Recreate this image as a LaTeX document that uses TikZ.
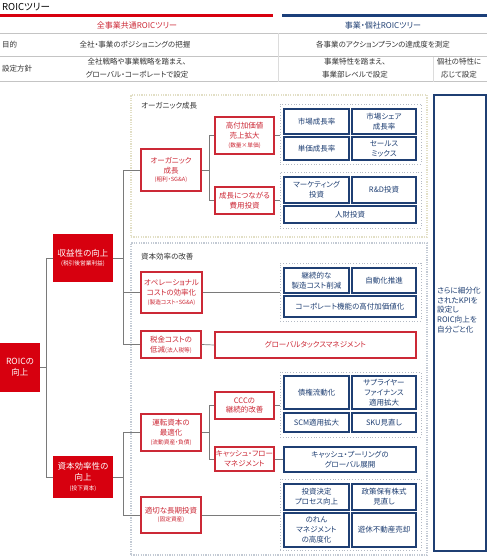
\documentclass[tikz,border=0pt]{standalone}
\usepackage{fontspec}
\setmainfont{Noto Sans CJK JP}[RawFeature=+palt]
\definecolor{redfill}{HTML}{D7000F}
\definecolor{redline}{HTML}{CC2936}
\definecolor{navy}{HTML}{1F3F73}
\definecolor{hblue}{HTML}{1B3F7A}
\definecolor{conngray}{HTML}{7A7A7A}
\definecolor{rulegray}{HTML}{C4C4C4}
\definecolor{grpgray}{HTML}{B4BAC4}
\definecolor{orgbeige}{HTML}{E2DFC6}
\definecolor{capgray}{HTML}{C3CAD4}
\definecolor{txtgray}{HTML}{333333}
\newcommand\bx[7]{\node[#1,minimum width={(#5)-(#3)},minimum height={(#6)-(#4)}] (#2) at ({((#3)+(#5))/2},{((#4)+(#6))/2}) {#7};}
\newcommand\fs{\fontsize{7.5}{9.8}\selectfont}
\newcommand\fb{\fontsize{8.5}{10.8}\selectfont}
\newcommand\sm{\fontsize{5.7}{7}\selectfont}
\begin{document}
\begin{tikzpicture}[x=1pt,y=-1pt,
  redfillbox/.style={fill=redfill,draw=none,text=white,align=center,inner sep=0pt,font=\fb},
  redbox/.style={draw=redline,line width=1.1pt,fill=white,text=redline,align=center,inner sep=0pt,font=\fs},
  bluebox/.style={draw=navy,line width=1.1pt,fill=white,text=navy,align=center,inner sep=0pt,font=\fs},
  grp/.style={draw=grpgray,dotted,line width=0.8pt,inner sep=0pt},
  bigorg/.style={draw=orgbeige,dash pattern=on 1.2pt off 1.2pt,line width=2.4pt,inner sep=0pt},
  bigcap/.style={draw=capgray,dash pattern=on 1.2pt off 1.2pt,line width=2.4pt,inner sep=0pt},
  conn/.style={draw=conngray,line width=0.7pt},
  rule/.style={draw=rulegray,line width=0.9pt},
  hdr/.style={font=\fontsize{8}{10}\selectfont,inner sep=0pt},
  row/.style={font=\fontsize{7.5}{13}\selectfont,text=txtgray,align=center,inner sep=0pt}
]
\useasboundingbox (0,0) rectangle (487,557);
% header
\node[anchor=west,inner sep=0pt,font=\fontsize{9.5}{11}\selectfont] (title) at (2,7.5) {ROICツリー};
\draw[redfill,line width=3pt] (0,15) -- (273,15);
\draw[hblue,line width=3pt] (282,15) -- (487,15);
\node[hdr,text=redline] (h1) at (137,25) {全事業共通ROICツリー};
\node[hdr,text=navy] (h2) at (383,25) {事業・個社ROICツリー};
\draw[rule] (0,33) -- (487,33);
\draw[rule] (0,56) -- (487,56);
\draw[rule] (0,81.5) -- (487,81.5);
\draw[rulegray!60,line width=0.5pt] (278,33) -- (278,81.5);
\draw[rulegray!60,line width=0.5pt] (433,57) -- (433,81.5);
\node[row,anchor=west] (r1) at (2,44.5) {目的};
\node[row,anchor=west] (r2) at (2,68.5) {設定方針};
\node[row] (r1a) at (135,44.5) {全社・事業のポジショニングの把握};
\node[row] (r1b) at (383,44.5) {各事業のアクションプランの達成度を測定};
\node[row] (r2a) at (137,68.5) {全社戦略や事業戦略を踏まえ、\\グローバル・コーポレートで設定};
\node[row] (r2b) at (355,68.5) {事業特性を踏まえ、\\事業部レベルで設定};
\node[row] (r2c) at (459,68.5) {個社の特性に\\応じて設定};
% big containers
\bx{bigorg}{corg}{131}{95}{427}{237}{}
\bx{bigcap}{ccap}{131}{243}{427}{555}{}
\node[anchor=west,inner sep=0pt,text=txtgray,font=\fontsize{7.5}{9}\selectfont] (lorg) at (141,106) {オーガニック成長};
\node[anchor=west,inner sep=0pt,text=txtgray,font=\fontsize{7.5}{9}\selectfont] (lcap) at (141,257) {資本効率の改善};
% right box
\bx{bluebox}{kpi}{434}{95}{486}{551}{}
\node[anchor=west,inner sep=0pt,text=navy,align=left,font=\fontsize{7.6}{9.8}\selectfont] (kpit) at (437,310) {さらに細分化\\されたKPIを\\設定し\\ROIC向上を\\自分ごと化};
% level 1,2
\bx{redfillbox}{roic}{0}{343}{40}{392}{ROICの\\向上}
\bx{redfillbox}{prof}{53}{234}{113}{282}{収益性の向上\\[-1pt]{\sm(税引後営業利益)}}
\bx{redfillbox}{capeff}{53}{456}{113}{498}{資本効率性の\\向上\\[-1pt]{\sm(投下資本)}}
% level 3
\bx{redbox}{org}{141}{149}{201}{191}{オーガニック\\成長\\[-1pt]{\sm(粗利・SG\&A)}}
\bx{redbox}{opc}{141}{272}{202}{313}{オペレーショナル\\コストの効率化\\[-1pt]{\sm(製造コスト・SG\&A)}}
\bx{redbox}{tax}{141}{331}{201}{358}{税金コストの\\低減{\sm(法人税等)}}
\bx{redbox}{wc}{141}{414}{201}{451}{運転資本の\\最適化\\[-1pt]{\sm(流動資産・負債)}}
\bx{redbox}{lti}{141}{497}{201}{533}{適切な長期投資\\[-1pt]{\sm(固定資産)}}
% level 4
\bx{redbox}{hva}{215}{117}{274}{154}{高付加価値\\売上拡大\\[-1pt]{\sm(数量×単価)}}
\bx{redbox}{gi}{215}{187}{274}{214}{成長につながる\\費用投資}
\bx{redbox}{gtm}{215}{332}{416}{358}{グローバルタックスマネジメント}
\bx{redbox}{ccc}{215}{392}{274}{419}{CCCの\\継続的改善}
\bx{redbox}{cfm}{215}{447}{274}{471}{キャッシュ・フロー\\マネジメント}
% groups
\bx{grp}{g1}{280}{104}{421}{164}{}
\bx{grp}{g2}{280}{172}{421}{228}{}
\bx{grp}{g3}{280}{263}{421}{321}{}
\bx{grp}{g4}{280}{372}{421}{437}{}
\bx{grp}{g5}{280}{479}{421}{550}{}
% blue boxes
\bx{bluebox}{b1}{284}{109}{349}{134}{市場成長率}
\bx{bluebox}{b2}{352}{109}{416}{134}{市場シェア\\成長率}
\bx{bluebox}{b3}{284}{137}{349}{160}{単価成長率}
\bx{bluebox}{b4}{352}{137}{416}{160}{セールス\\ミックス}
\bx{bluebox}{b5}{284}{177}{349}{203}{マーケティング\\投資}
\bx{bluebox}{b6}{352}{177}{416}{203}{R\&D投資}
\bx{bluebox}{b7}{284}{206}{416}{223}{人財投資}
\bx{bluebox}{b8}{284}{268}{349}{293}{継続的な\\製造コスト削減}
\bx{bluebox}{b9}{352}{268}{416}{293}{自動化推進}
\bx{bluebox}{b10}{284}{296}{416}{317}{コーポレート機能の高付加価値化}
\bx{bluebox}{b11}{284}{376}{349}{409}{債権流動化}
\bx{bluebox}{b12}{352}{376}{416}{409}{サプライヤー\\ファイナンス\\適用拡大}
\bx{bluebox}{b13}{284}{413}{349}{432}{SCM適用拡大}
\bx{bluebox}{b14}{352}{413}{416}{432}{SKU見直し}
\bx{bluebox}{b15}{284}{447}{416}{472}{キャッシュ・プーリングの\\グローバル展開}
\bx{bluebox}{b16}{284}{484}{349}{510}{投資決定\\プロセス向上}
\bx{bluebox}{b17}{352}{484}{416}{510}{政策保有株式\\見直し}
\bx{bluebox}{b18}{284}{513}{349}{547}{のれん\\マネジメント\\の高度化}
\bx{bluebox}{b19}{352}{513}{416}{547}{遊休不動産売却}
% connectors
\draw[conn] (roic.east) -- ++(6,0) |- (prof.west);
\draw[conn] (roic.east) -- ++(6,0) |- (capeff.west);
\draw[conn] (prof.east) -- ++(10,0) |- (org.west);
\draw[conn] (prof.east) -- ++(10,0) |- (opc.west);
\draw[conn] (prof.east) -- ++(10,0) |- (tax.west);
\draw[conn] (capeff.east) -- ++(10,0) |- (wc.west);
\draw[conn] (capeff.east) -- ++(10,0) |- (lti.west);
\draw[conn] (org.east) -- ++(8,0) |- (hva.west);
\draw[conn] (org.east) -- ++(8,0) |- (gi.west);
\draw[conn] (wc.east) -- ++(8,0) |- (ccc.west);
\draw[conn] (wc.east) -- ++(8,0) |- (cfm.west);
\draw[conn] (hva.east) -- (hva.east -| g1.west);
\draw[conn] (gi.east) -- (gi.east -| g2.west);
\draw[conn] (opc.east) -- (opc.east -| g3.west);
\draw[conn] (tax.east) -- (gtm.west);
\draw[conn] (ccc.east) -- (ccc.east -| g4.west);
\draw[conn] (cfm.east) -- (cfm.east -| b15.west);
\draw[conn] (lti.east) -- (lti.east -| g5.west);
\end{tikzpicture}
\end{document}
